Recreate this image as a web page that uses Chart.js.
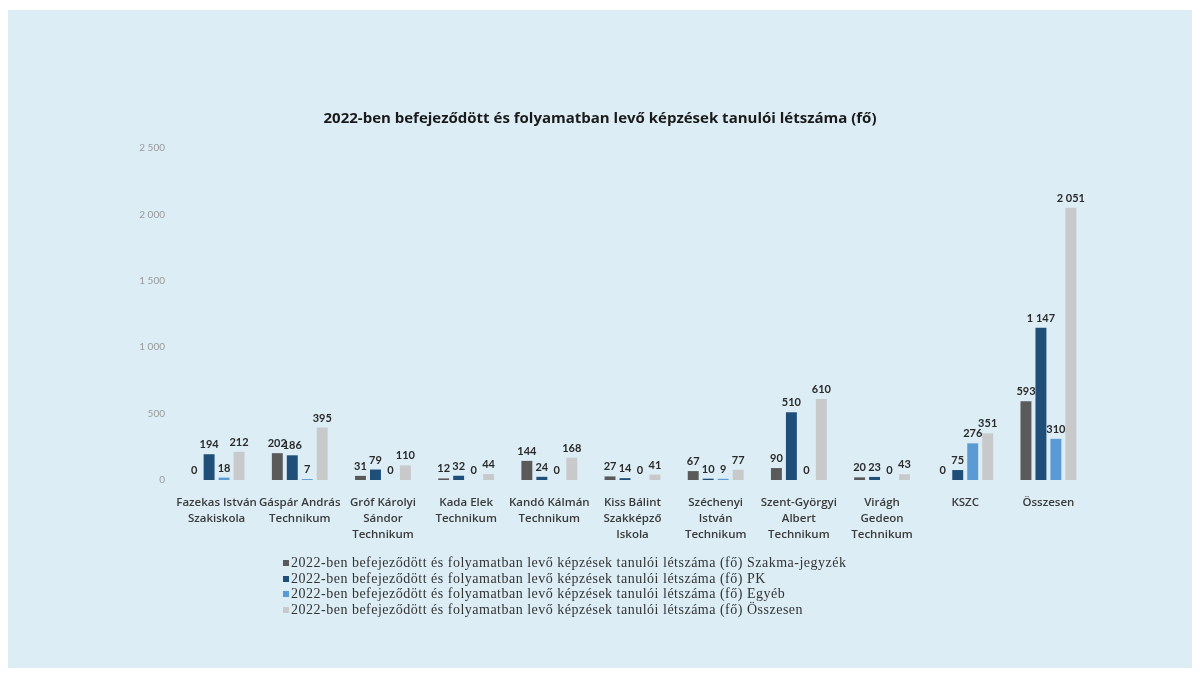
<!DOCTYPE html>
<html lang="hu">
<head>
    <meta charset="UTF-8">
    <title>2022-ben befejeződött és folyamatban levő képzések</title>
    <script src="https://cdn.jsdelivr.net/npm/chart.js"></script>
    <style>
        body {
            margin: 0;
            background: #ffffff;
            width: 1200px;
            height: 676px;
            position: relative;
            overflow: hidden;
        }
        #panel {
            position: absolute;
            left: 8px;
            top: 10px;
            width: 1184px;
            height: 658px;
            background: #dcedf5;
        }
        #chart-container {
            position: absolute;
            left: 0;
            top: 0;
            width: 1200px;
            height: 676px;
        }
        #legend {
            position: absolute;
            left: 283px;
            top: 555px;
            font-family: "Liberation Serif", serif;
            font-size: 14px;
            letter-spacing: 0.5px;
            color: #333;
            line-height: 15.7px;
        }
        #legend span.box {
            display: inline-block;
            width: 6px;
            height: 6px;
            margin-right: 2px;
            vertical-align: 1px;
        }
    </style>
</head>
<body>
    <div id="panel"></div>
    <div id="chart-container">
        <canvas id="myChart" width="1200" height="676"></canvas>
    </div>
    <div id="legend"></div>

    <script>
        const labels = [
            ["Fazekas István", "Szakiskola"],
            ["Gáspár András", "Technikum"],
            ["Gróf Károlyi", "Sándor", "Technikum"],
            ["Kada Elek", "Technikum"],
            ["Kandó Kálmán", "Technikum"],
            ["Kiss Bálint", "Szakképző", "Iskola"],
            ["Széchenyi", "István", "Technikum"],
            ["Szent-Györgyi", "Albert", "Technikum"],
            ["Virágh", "Gedeon", "Technikum"],
            ["KSZC"],
            ["Összesen"]
        ];

        const szakma = [0, 202, 31, 12, 144, 27, 67, 90, 20, 0, 593];
        const pk = [194, 186, 79, 32, 24, 14, 10, 510, 23, 75, 1147];
        const egyeb = [18, 7, 0, 0, 0, 0, 9, 0, 0, 276, 310];
        const osszesen = [212, 395, 110, 44, 168, 41, 77, 610, 43, 351, 2051];

        const yTicks = [0, 500, 1000, 1500, 2000, 2500];

        const prefix = "2022-ben befejeződött és folyamatban levő képzések tanulói létszáma (fő) ";
        const seriesNames = ["Szakma-jegyzék", "PK", "Egyéb", "Összesen"];
        const seriesColors = ["#5a5a5a", "#1f4e79", "#5b9bd5", "#c8c9ca"];

        function fmt(v) {
            return String(v).replace(/\B(?=(\d{3})+(?!\d))/g, " ");
        }

        // value labels above each bar
        const valueLabels = {
            id: "valueLabels",
            afterDatasetsDraw(chart) {
                const ctx = chart.ctx;
                ctx.save();
                ctx.font = "bold 11px Lato";
                ctx.fillStyle = "#2a2a2a";
                ctx.textAlign = "center";
                ctx.textBaseline = "bottom";
                chart.data.datasets.forEach((ds, i) => {
                    chart.getDatasetMeta(i).data.forEach((bar, j) => {
                        ctx.fillText(fmt(ds.data[j]), bar.x, bar.y - 4);
                    });
                });
                ctx.restore();
            }
        };

        const allSeries = [szakma, pk, egyeb, osszesen];

        const ctx = document.getElementById('myChart').getContext('2d');
        const chartInstance = new Chart(ctx, {
            type: 'bar',
            data: {
                labels: labels,
                datasets: allSeries.map((d, i) => ({
                    label: prefix + seriesNames[i],
                    data: d,
                    backgroundColor: seriesColors[i],
                    categoryPercentage: 0.72,
                    barPercentage: 0.73
                }))
            },
            options: {
                responsive: false,
                animation: false,
                layout: {
                    padding: { left: 110, right: 110, top: 0, bottom: 116 }
                },
                plugins: {
                    legend: { display: false },
                    tooltip: { enabled: false },
                    title: {
                        display: true,
                        text: "2022-ben befejeződött és folyamatban levő képzések tanulói létszáma (fő)",
                        color: "#1a1a1a",
                        font: { family: "Open Sans", size: 15, weight: "bold" },
                        padding: { top: 110, bottom: 20 }
                    }
                },
                scales: {
                    x: {
                        grid: { display: false },
                        border: { display: false },
                        ticks: {
                            color: "#3a3a3a",
                            font: { family: "Open Sans", size: 11.5, weight: "600", lineHeight: 1.39 },
                            maxRotation: 0,
                            autoSkip: false,
                            padding: 7
                        },
                        afterFit(scale) { scale.height = 80; }
                    },
                    y: {
                        min: 0,
                        max: 2500,
                        grid: { display: false },
                        border: { display: false },
                        afterBuildTicks(scale) {
                            scale.ticks = yTicks.map(v => ({ value: v }));
                        },
                        ticks: {
                            color: "#9a9a9a",
                            font: { family: "Lato", size: 10 },
                            padding: 2,
                            callback: v => fmt(v)
                        },
                        afterFit(scale) { scale.width = 65; }
                    }
                }
            },
            plugins: [valueLabels]
        });

        // legend in the original's serif style
        const legend = document.getElementById("legend");
        seriesNames.forEach((name, i) => {
            const row = document.createElement("div");
            const box = document.createElement("span");
            box.className = "box";
            box.style.background = seriesColors[i];
            row.appendChild(box);
            row.appendChild(document.createTextNode(prefix + name));
            legend.appendChild(row);
        });
    </script>
</body>
</html>
